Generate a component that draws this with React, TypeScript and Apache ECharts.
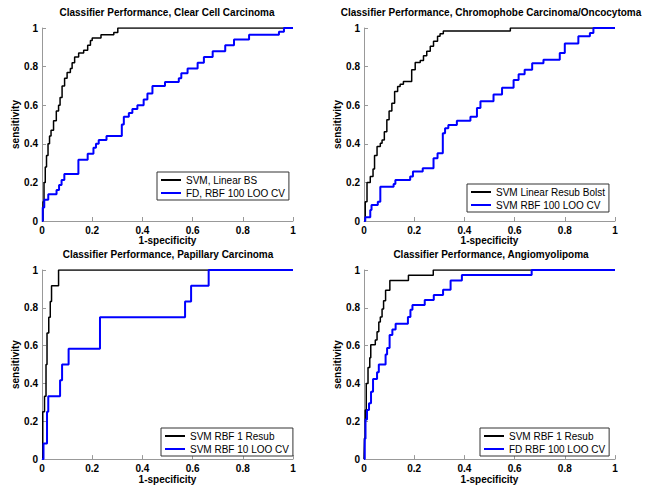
import React, { useEffect, useRef } from "react";
import * as echarts from "echarts";

// Tick labels
const tickValues = [0, 0.2, 0.4, 0.6, 0.8, 1];

// Panel titles
const titles = [
  "Classifier Performance, Clear Cell Carcinoma",
  "Classifier Performance, Chromophobe Carcinoma/Oncocytoma",
  "Classifier Performance, Papillary Carcinoma",
  "Classifier Performance, Angiomyolipoma",
];

// Series names
const names = [
  ["SVM, Linear BS", "FD, RBF 100 LOO CV"],
  ["SVM Linear Resub Bolst", "SVM RBF 100 LOO CV"],
  ["SVM RBF 1 Resub", "SVM RBF 10 LOO CV"],
  ["SVM RBF 1 Resub", "FD RBF 100 LOO CV"],
];

// Clear cell carcinoma
const ccBlackX = [0, 0.004, 0.008, 0.013, 0.018, 0.024, 0.03, 0.036, 0.046, 0.057, 0.066, 0.072, 0.08, 0.09, 0.1, 0.113, 0.12, 0.13, 0.146, 0.166, 0.182, 0.193, 0.2, 0.235, 0.286, 0.302, 1];
const ccBlackY = [0, 0.1, 0.2, 0.28, 0.34, 0.4, 0.44, 0.47, 0.52, 0.57, 0.6, 0.64, 0.7, 0.74, 0.77, 0.79, 0.82, 0.85, 0.87, 0.885, 0.91, 0.935, 0.948, 0.965, 0.977, 1, 1];
const ccBlueX = [0, 0.003, 0.009, 0.025, 0.058, 0.068, 0.078, 0.089, 0.145, 0.182, 0.205, 0.215, 0.226, 0.257, 0.318, 0.326, 0.346, 0.36, 0.38, 0.405, 0.42, 0.44, 0.49, 0.545, 0.555, 0.58, 0.62, 0.645, 0.68, 0.73, 0.765, 0.825, 0.944, 0.964, 1];
const ccBlueY = [0, 0.07, 0.11, 0.138, 0.16, 0.187, 0.213, 0.244, 0.317, 0.348, 0.38, 0.4, 0.42, 0.44, 0.5, 0.54, 0.56, 0.58, 0.6, 0.63, 0.66, 0.7, 0.72, 0.74, 0.765, 0.79, 0.82, 0.85, 0.88, 0.91, 0.94, 0.965, 0.98, 1, 1];

// Chromophobe carcinoma / oncocytoma
const chBlackX = [0, 0.005, 0.012, 0.025, 0.036, 0.042, 0.052, 0.065, 0.072, 0.081, 0.091, 0.1, 0.111, 0.122, 0.134, 0.144, 0.157, 0.19, 0.204, 0.224, 0.237, 0.25, 0.264, 0.277, 0.293, 0.303, 0.316, 0.583, 1];
const chBlackY = [0, 0.1, 0.2, 0.23, 0.27, 0.34, 0.386, 0.403, 0.42, 0.463, 0.524, 0.57, 0.61, 0.671, 0.697, 0.709, 0.723, 0.784, 0.821, 0.832, 0.856, 0.879, 0.905, 0.931, 0.957, 0.97, 0.985, 1, 1];
const chBlueX = [0, 0.005, 0.025, 0.03, 0.055, 0.065, 0.118, 0.125, 0.184, 0.195, 0.234, 0.277, 0.293, 0.314, 0.323, 0.336, 0.37, 0.424, 0.45, 0.464, 0.516, 0.55, 0.596, 0.616, 0.64, 0.67, 0.715, 0.78, 0.8, 0.854, 0.9, 0.914, 1];
const chBlueY = [0, 0.02, 0.057, 0.083, 0.1, 0.178, 0.192, 0.213, 0.23, 0.256, 0.273, 0.325, 0.351, 0.455, 0.481, 0.498, 0.52, 0.54, 0.585, 0.62, 0.655, 0.69, 0.73, 0.76, 0.784, 0.818, 0.835, 0.87, 0.92, 0.957, 0.974, 1, 1];

// Papillary carcinoma
const paBlackX = [0, 0.003, 0.01, 0.016, 0.02, 0.027, 0.033, 0.038, 0.066, 1];
const paBlackY = [0, 0.25, 0.333, 0.5, 0.667, 0.75, 0.833, 0.917, 1, 1];
const paBlueX = [0, 0.006, 0.02, 0.025, 0.072, 0.08, 0.106, 0.231, 0.57, 0.594, 0.664, 1];
const paBlueY = [0, 0.083, 0.25, 0.333, 0.417, 0.5, 0.583, 0.75, 0.833, 0.917, 1, 1];

// Angiomyolipoma
const amBlackX = [0, 0.002, 0.005, 0.009, 0.016, 0.023, 0.027, 0.045, 0.052, 0.059, 0.065, 0.072, 0.078, 0.086, 0.103, 0.177, 0.276, 1];
const amBlackY = [0, 0.11, 0.26, 0.4, 0.485, 0.536, 0.605, 0.63, 0.674, 0.725, 0.751, 0.794, 0.837, 0.893, 0.945, 0.972, 1, 1];
const amBlueX = [0, 0.003, 0.006, 0.012, 0.02, 0.028, 0.036, 0.052, 0.059, 0.086, 0.092, 0.102, 0.113, 0.126, 0.175, 0.185, 0.193, 0.242, 0.278, 0.315, 0.345, 0.39, 0.668, 1];
const amBlueY = [0, 0.107, 0.21, 0.26, 0.295, 0.356, 0.424, 0.459, 0.5, 0.553, 0.588, 0.656, 0.686, 0.716, 0.751, 0.79, 0.815, 0.842, 0.868, 0.895, 0.945, 0.974, 1, 1];

const curves = [
  [ccBlackX, ccBlackY, ccBlueX, ccBlueY],
  [chBlackX, chBlackY, chBlueX, chBlueY],
  [paBlackX, paBlackY, paBlueX, paBlueY],
  [amBlackX, amBlackY, amBlueX, amBlueY],
];

const FONT = "'Liberation Sans', Arial, Helvetica, sans-serif";

export default function App() {
  const ref = useRef<HTMLDivElement>(null);
  useEffect(() => {
    if (!ref.current) return;
    const chart = echarts.init(ref.current, undefined, { renderer: "svg" });
    const grids = [
      { left: 42, top: 28, width: 251, height: 193 },
      { left: 364, top: 28, width: 251, height: 193 },
      { left: 42, top: 270, width: 251, height: 194 },
      { left: 364, top: 270, width: 251, height: 194 },
    ];
    const titlePos = [
      { x: 167, y: 7 },
      { x: 491, y: 7 },
      { x: 168, y: 249 },
      { x: 491, y: 249 },
    ];
    const legendPos = [
      { left: 157, top: 172 },
      { left: 467, top: 184 },
      { left: 161, top: 428 },
      { left: 480, top: 428 },
    ];
    const axisCommon = {
      type: "value",
      min: 0,
      max: 1,
      interval: 0.2,
      splitLine: { show: false },
      axisLine: { show: true, lineStyle: { color: "#999", width: 1 } },
      axisTick: { show: true, inside: true, length: 4, lineStyle: { color: "#999" } },
      nameLocation: "middle",
      nameTextStyle: { fontFamily: FONT, fontWeight: "bold", fontSize: 10, color: "#000" },
    };
    const fmt = (v: number) => {
      const t = tickValues.find((tv) => Math.abs(tv - v) < 1e-6);
      return t === undefined ? "" : String(t);
    };
    const xAxis = grids.map((_, i) => ({
      ...axisCommon,
      gridIndex: i,
      name: "1-specificity",
      nameGap: 14,
      axisLabel: { margin: 4, formatter: fmt, fontFamily: FONT, fontWeight: "bold", fontSize: 10, color: "#000" },
    }));
    const yAxis = grids.map((_, i) => ({
      ...axisCommon,
      gridIndex: i,
      name: "sensitivity",
      nameGap: 21,
      axisLabel: { margin: 4, formatter: fmt, fontFamily: FONT, fontWeight: "bold", fontSize: 10, color: "#000" },
    }));
    const series: any[] = [];
    curves.forEach((c, i) => {
      series.push({
        name: names[i][0],
        type: "line",
        xAxisIndex: i,
        yAxisIndex: i,
        step: "end",
        showSymbol: false,
        symbol: "none",
        data: c[0].map((v, j) => [v, c[1][j]]),
        lineStyle: { color: "#000", width: 1.5 },
        itemStyle: { color: "#000" },
      });
      series.push({
        name: names[i][1],
        type: "line",
        xAxisIndex: i,
        yAxisIndex: i,
        step: "end",
        showSymbol: false,
        symbol: "none",
        data: c[2].map((v, j) => [v, c[3][j]]),
        lineStyle: { color: "#0000ff", width: 2 },
        itemStyle: { color: "#0000ff" },
      });
    });
    chart.setOption({
      animation: false,
      backgroundColor: "#fff",
      title: titles.map((t, i) => ({
        text: t,
        left: titlePos[i].x,
        top: titlePos[i].y,
        textAlign: "center",
        padding: 0,
        textStyle: { fontFamily: FONT, fontWeight: "bold", fontSize: 10, color: "#000" },
      })),
      grid: grids,
      xAxis,
      yAxis,
      legend: names.map((n, i) => ({
        data: n,
        left: legendPos[i].left,
        top: legendPos[i].top,
        orient: "vertical",
        icon: "rect",
        itemWidth: 20,
        itemHeight: 2,
        itemGap: 3,
        padding: [3, 4, 2, 4],
        borderColor: "#333",
        borderWidth: 1,
        borderRadius: 0,
        backgroundColor: "#fff",
        selectedMode: false,
        textStyle: { fontFamily: FONT, fontSize: 10, color: "#000" },
      })),
      series,
    });
    return () => chart.dispose();
  }, []);
  return (
    <div
      ref={ref}
      style={{ position: "fixed", left: 0, top: 0, width: 657, height: 485, background: "#fff" }}
    />
  );
}
